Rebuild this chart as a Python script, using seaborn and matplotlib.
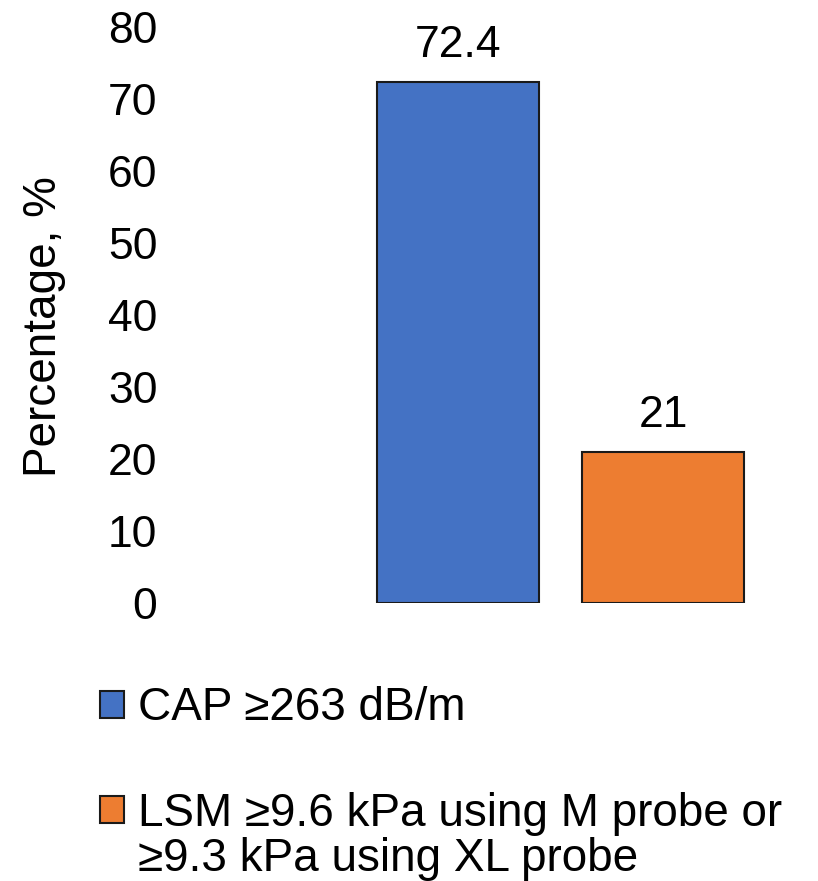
import matplotlib
matplotlib.use("Agg")
import matplotlib.pyplot as plt
from matplotlib.patches import Patch
import seaborn as sns
import pandas as pd

# Datos
categorias = ["CAP ≥263 dB/m", "LSM ≥9.6 kPa using M probe or\n≥9.3 kPa using XL probe"]
valores = [72.4, 21]
etiquetas = ["72.4", "21"]
colores = ["#4472C4", "#ED7D31"]
ticks_y = [0, 10, 20, 30, 40, 50, 60, 70, 80]

sns.set_style("white")
plt.rcParams['font.family'] = ['Liberation Sans', 'DejaVu Sans']
plt.rcParams['text.color'] = 'black'
plt.rcParams['axes.labelcolor'] = 'black'
plt.rcParams['ytick.color'] = 'black'

df = pd.DataFrame({'categoria': categorias, 'valor': valores})

fig = plt.figure(figsize=(8.18, 8.81), dpi=100)
ax = fig.add_axes([0.2078, 0.3156, 0.7702, 0.6538])

sns.barplot(data=df, x='categoria', y='valor', hue='categoria', palette=colores,
            saturation=1, width=0.79, edgecolor='#1a1a1a', linewidth=1.5,
            legend=False, ax=ax)

for cont, lab in zip(ax.containers, etiquetas):
    ax.bar_label(cont, labels=[lab], fontsize=32, padding=11)

ax.set_ylim(0, 80)
ax.set_xlim(-1.405, 1.668)
ax.set_yticks(ticks_y)
ax.tick_params(axis='y', labelsize=32, length=0, pad=9)
ax.set_xticks([])
ax.set_xlabel('')
ax.set_ylabel('Percentage, %', fontsize=33)
ax.yaxis.set_label_coords(-0.165, 0.48)
sns.despine(ax=ax, left=True, bottom=True)

# Leyenda: el cuadro se alinea con la primera línea del texto
primeras = [c.split('\n')[0] for c in categorias]
handles = [Patch(facecolor=c, edgecolor='#1a1a1a', linewidth=1.5) for c in colores]
leg = fig.legend(handles, primeras, loc='upper left', bbox_to_anchor=(0.122, 0.221),
                 frameon=False, fontsize=33, handlelength=0.53, handleheight=0.53,
                 handletextpad=0.3, labelspacing=1.34, borderpad=0, borderaxespad=0)

fig.canvas.draw()
bb = leg.get_texts()[1].get_window_extent()
x0 = bb.x0 / fig.bbox.width
yc = ((bb.y0 + bb.y1) / 2 - 45) / fig.bbox.height
fig.text(x0, yc, categorias[1].split('\n')[1], fontsize=33, ha='left', va='center')

fig.savefig('out.png', dpi=100)
